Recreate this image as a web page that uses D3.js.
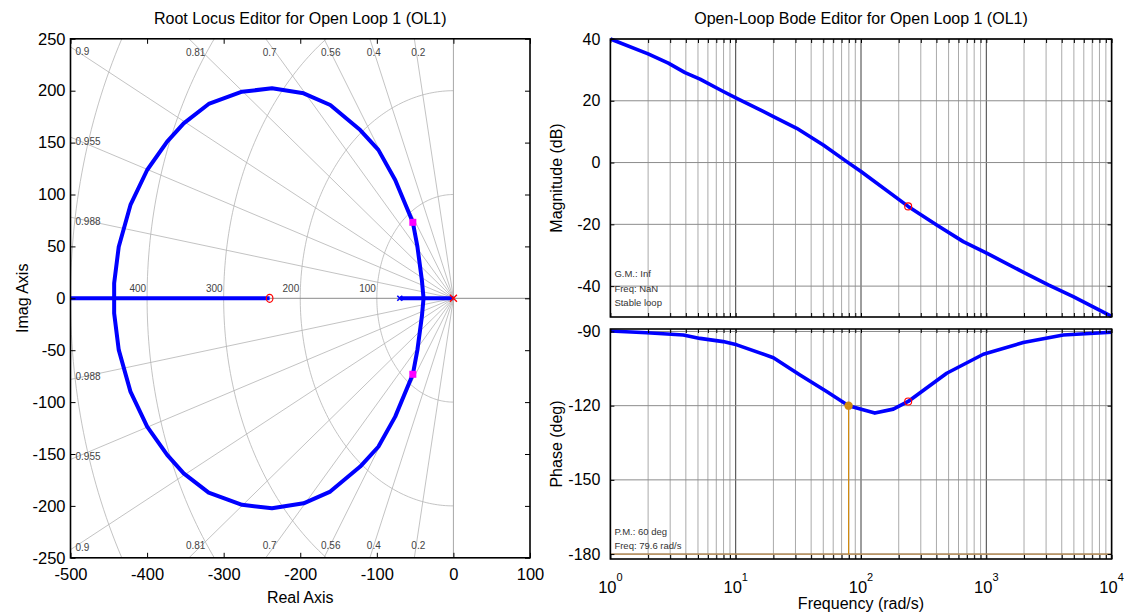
<!DOCTYPE html>
<html><head><meta charset="utf-8">
<script src="https://cdn.jsdelivr.net/npm/d3@7"></script>
<style>
body{margin:0;background:#fff;}
svg{font-family:"Liberation Sans",Arial,Helvetica,sans-serif;}
</style>
</head><body>
<svg id="chart" width="1133" height="615"></svg>
<script>
// ---------------- DATA ----------------
// Root locus axes
const rlXTicks = [-500, -400, -300, -200, -100, 0, 100];
const rlYTicks = [250, 200, 150, 100, 50, 0, -50, -100, -150, -200, -250];
// Upper half of the complex branch (mirrored for the lower half)
const locusRe = [-443, -443, -437, -421.7, -399.9, -373.8, -352.2, -319.6, -276, -236.9, -195.6, -160.8, -121.7, -98, -76, -53, -47, -41.2, -39];
const locusIm = [0, 14.5, 49.7, 89.9, 123.6, 150.9, 168.6, 187.2, 199, 202.3, 197.5, 186.2, 162.1, 143, 114, 73.2, 49.7, 17.6, 0];
// Real-axis branches [start, end]
const realBranchStart = [-500, -70];
const realBranchEnd = [-240, 0];
// Open-loop poles / zeros, closed-loop poles
const compPoles = [0];
const plantPoles = [-70];
const compZeros = [-240];
const clPoleRe = [-53, -53];
const clPoleIm = [73.2, -73.2];
// sgrid
const zetaValues = [0.988, 0.955, 0.9, 0.81, 0.7, 0.56, 0.4, 0.2];
const zetaLabels = ["0.988", "0.955", "0.9", "0.81", "0.7", "0.56", "0.4", "0.2"];
const wnValues = [100, 200, 300, 400, 500];
const wnLabels = ["100", "200", "300", "400"];

// Bode axes
const magTicks = [40, 20, 0, -20, -40];
const phaseTicks = [-90, -120, -150, -180];
const decadeTicks = [1, 10, 100, 1000, 10000];
const decadeExp = ["0", "1", "2", "3", "4"];
// Bode magnitude (rad/s, dB)
const magFreq = [1, 2.0, 2.9, 3.94, 5.19, 7.96, 10.2, 20, 30.7, 50, 76.9, 100, 238, 402, 655, 1007, 2040, 3125, 4945, 10000];
const magDb = [40, 35.2, 32.2, 29.1, 27, 23, 20.8, 14.9, 11.1, 5.7, 0.3, -2.9, -14.2, -20.2, -25.6, -29.3, -35.8, -39.6, -43.4, -49.8];
// Bode phase (rad/s, deg)
const phFreq = [1, 1.95, 3.82, 5.19, 7.95, 10.2, 20, 32.6, 53.2, 79.6, 129, 181, 238, 483, 947, 1972, 4110, 10000];
const phDeg = [-89.8, -90.5, -91.4, -92.8, -94.1, -95.4, -100.6, -107.6, -114.3, -120, -123, -121.4, -118.3, -106.9, -99.2, -94.5, -91.4, -90.3];
// markers
const clMarkFreq = 238, clMarkMag = -14.2, clMarkPh = -118.3;
const pmFreq = 79.6, pmPhase = -120;
const gmText = ["G.M.: Inf", "Freq: NaN", "Stable loop"];
const pmText = ["P.M.: 60 deg", "Freq: 79.6 rad/s"];

// ---------------- DRAW ----------------
const svg = d3.select("#chart");
const BLUE = "#0000ff", RED = "#ff0000", MAG = "#ff00ff", ORANGE = "#d08a10";
const fmt = d => String(d);

// ===== Root locus =====
const L = {l: 70.5, r: 530, t: 38.8, b: 557.8};
const x = d3.scaleLinear().domain([-500, 100]).range([L.l, L.r]);
const y = d3.scaleLinear().domain([-250, 250]).range([L.b, L.t]);

svg.append("defs").append("clipPath").attr("id", "rlclip")
  .append("rect").attr("x", L.l).attr("y", L.t).attr("width", L.r - L.l).attr("height", L.b - L.t);
const rl = svg.append("g").attr("clip-path", "url(#rlclip)");

// wn circles (left half plane)
wnValues.forEach(w => {
  const pts = d3.range(0, 181).map(i => {
    const a = Math.PI / 2 + i * Math.PI / 180;
    return [x(w * Math.cos(a)), y(w * Math.sin(a))];
  });
  rl.append("path").attr("d", d3.line()(pts)).attr("fill", "none")
    .attr("stroke", "#b4b4b4").attr("stroke-width", 0.8);
});
// zeta rays
zetaValues.forEach(z => {
  const th = Math.acos(z);
  [1, -1].forEach(s => {
    rl.append("line").attr("x1", x(0)).attr("y1", y(0))
      .attr("x2", x(-1000 * Math.cos(th))).attr("y2", y(s * 1000 * Math.sin(th)))
      .attr("stroke", "#b4b4b4").attr("stroke-width", 0.8);
  });
});
// axes lines
rl.append("line").attr("x1", x(-500)).attr("x2", x(100)).attr("y1", y(0)).attr("y2", y(0))
  .attr("stroke", "#8a8a8a").attr("stroke-width", 1);
rl.append("line").attr("x1", x(0)).attr("x2", x(0)).attr("y1", y(250)).attr("y2", y(-250))
  .attr("stroke", "#a8a8a8").attr("stroke-width", 1);

// zeta labels
zetaValues.forEach((z, i) => {
  const th = Math.acos(z);
  const tn = Math.tan(th);
  const reAtTop = -250 / tn;
  [1, -1].forEach(s => {
    let tx, ty;
    if (reAtTop < -500) {
      const imL = 500 * tn;
      tx = L.l + 5; ty = y(s * imL) + (s > 0 ? 8 : 1);
    } else {
      tx = x(reAtTop) - 3; ty = s > 0 ? L.t + 17 : L.b - 9;
    }
    svg.append("text").attr("x", tx).attr("y", ty).attr("text-anchor", "start")
      .attr("font-size", 10).attr("fill", "#444").text(zetaLabels[i]);
  });
});
// wn labels
wnLabels.forEach((t, i) => {
  svg.append("text").attr("x", x(-wnValues[i]) - 1).attr("y", y(0) - 6)
    .attr("text-anchor", "end").attr("font-size", 10).attr("fill", "#444").text(t);
});

// locus branches
const lineRL = d3.line().x(d => x(d[0])).y(d => y(d[1]));
const upper = locusRe.map((r, i) => [r, locusIm[i]]);
const lower = locusRe.map((r, i) => [r, -locusIm[i]]);
[upper, lower].forEach(p => rl.append("path").attr("d", lineRL(p)).attr("fill", "none")
  .attr("stroke", BLUE).attr("stroke-width", 4).attr("stroke-linejoin", "round"));
realBranchStart.forEach((s, i) => {
  rl.append("line").attr("x1", x(s)).attr("x2", x(realBranchEnd[i])).attr("y1", y(0)).attr("y2", y(0))
    .attr("stroke", BLUE).attr("stroke-width", 4);
});
// markers
function xMark(g, cx, cy, sz, col, w) {
  g.append("path").attr("d", `M${cx-sz},${cy-sz}L${cx+sz},${cy+sz}M${cx-sz},${cy+sz}L${cx+sz},${cy-sz}`)
    .attr("stroke", col).attr("stroke-width", w).attr("fill", "none");
}
plantPoles.forEach(p => xMark(rl, x(p), y(0), 2.5, BLUE, 1.6));
compPoles.forEach(p => xMark(rl, x(p), y(0), 3.5, RED, 1.4));
compZeros.forEach(zz => rl.append("ellipse").attr("cx", x(zz)).attr("cy", y(0)).attr("rx", 3.3).attr("ry", 4)
  .attr("fill", "none").attr("stroke", RED).attr("stroke-width", 1.2));
clPoleRe.forEach((r, i) => rl.append("rect").attr("x", x(r) - 3.5).attr("y", y(clPoleIm[i]) - 3.5)
  .attr("width", 7).attr("height", 7).attr("fill", MAG));

// axes ticks & labels
const fs = 16.5;
const gx = svg.append("g").attr("transform", `translate(0,${L.b})`)
  .call(d3.axisBottom(x).tickValues(rlXTicks).tickSize(-5).tickPadding(10).tickFormat(fmt));
gx.selectAll("text").attr("font-size", fs).attr("fill", "#000");
svg.append("g").attr("transform", `translate(0,${L.t})`)
  .call(d3.axisTop(x).tickValues(rlXTicks).tickSize(-5).tickFormat(""));
const gy = svg.append("g").attr("transform", `translate(${L.l},0)`)
  .call(d3.axisLeft(y).tickValues(rlYTicks).tickSize(-5).tickPadding(5).tickFormat(fmt));
gy.selectAll("text").attr("font-size", fs).attr("fill", "#000");
svg.append("g").attr("transform", `translate(${L.r},0)`)
  .call(d3.axisRight(y).tickValues(rlYTicks).tickSize(-5).tickFormat(""));
svg.selectAll(".domain").remove();
svg.selectAll(".tick line").attr("stroke", "#000");
svg.append("rect").attr("x", L.l).attr("y", L.t).attr("width", L.r - L.l).attr("height", L.b - L.t)
  .attr("fill", "none").attr("stroke", "#000").attr("stroke-width", 1.6);

svg.append("text").attr("x", (L.l + L.r) / 2).attr("y", 24).attr("text-anchor", "middle")
  .attr("font-size", 16).text("Root Locus Editor for Open Loop 1 (OL1)");
svg.append("text").attr("x", (L.l + L.r) / 2).attr("y", 603).attr("text-anchor", "middle")
  .attr("font-size", 16).text("Real Axis");
svg.append("text").attr("transform", `translate(28,${(L.t + L.b) / 2}) rotate(-90)`)
  .attr("text-anchor", "middle").attr("font-size", 16).text("Imag Axis");

// ===== Bode =====
const B = {l: 610.4, r: 1111.6};
const M = {t: 39, b: 317};
const P = {t: 329, b: 559};
const xb = d3.scaleLog().domain([1, 10000]).range([B.l, B.r]);
const ym = d3.scaleLinear().domain([-50, 40]).range([M.b, M.t]);
const yp = d3.scaleLinear().domain([-182, -89]).range([P.b, P.t]);

const minorVals = [];
[1, 10, 100, 1000].forEach(d => { for (let k = 1; k <= 9; k++) minorVals.push(k * d); });
minorVals.push(10000);

function bodePanel(ys, pan, yTicks, showX) {
  const g = svg.append("g");
  minorVals.forEach(v => {
    const major = decadeTicks.includes(v);
    g.append("line").attr("x1", xb(v)).attr("x2", xb(v)).attr("y1", pan.t).attr("y2", pan.b)
      .attr("stroke", major ? "#3c3c3c" : "#a0a0a0").attr("stroke-width", major ? 1 : 0.9);
  });
  yTicks.forEach(v => {
    g.append("line").attr("x1", B.l).attr("x2", B.r).attr("y1", ys(v)).attr("y2", ys(v))
      .attr("stroke", "#8c8c8c").attr("stroke-width", 1);
  });
  svg.append("g").attr("transform", `translate(0,${pan.b})`)
    .call(d3.axisBottom(xb).tickValues(minorVals).tickSize(-4).tickFormat(""));
  svg.append("g").attr("transform", `translate(0,${pan.t})`)
    .call(d3.axisTop(xb).tickValues(minorVals).tickSize(-4).tickFormat(""));
  const al = svg.append("g").attr("transform", `translate(${B.l},0)`)
    .call(d3.axisLeft(ys).tickValues(yTicks).tickSize(-4).tickPadding(10).tickFormat(fmt));
  al.selectAll("text").attr("font-size", 16).attr("fill", "#000");
  svg.append("g").attr("transform", `translate(${B.r},0)`)
    .call(d3.axisRight(ys).tickValues(yTicks).tickSize(-4).tickFormat(""));
  if (showX) {
    decadeTicks.forEach((v, i) => {
      const t = svg.append("text").attr("x", xb(v)).attr("y", pan.b + 34)
        .attr("text-anchor", "middle").attr("font-size", fs);
      t.append("tspan").text("10");
      t.append("tspan").attr("dy", -12).attr("font-size", 11).text(decadeExp[i]);
    });
  }
  return g;
}
const gm = bodePanel(ym, M, magTicks, false);
const gp = bodePanel(yp, P, phaseTicks, true);
svg.selectAll(".domain").remove();
svg.selectAll(".tick line").attr("stroke", "#000");

// -180 line & PM marker line
gp.append("line").attr("x1", B.l).attr("x2", B.r).attr("y1", yp(-180)).attr("y2", yp(-180))
  .attr("stroke", "#b8884a").attr("stroke-width", 1.2);
gp.append("line").attr("x1", xb(pmFreq)).attr("x2", xb(pmFreq)).attr("y1", yp(pmPhase)).attr("y2", yp(-180))
  .attr("stroke", ORANGE).attr("stroke-width", 1.2);

const magLine = d3.line().x((d, i) => xb(magFreq[i])).y(d => ym(d));
gm.append("path").attr("d", magLine(magDb)).attr("fill", "none").attr("stroke", BLUE)
  .attr("stroke-width", 3.6).attr("stroke-linejoin", "round");
const phLine = d3.line().x((d, i) => xb(phFreq[i])).y(d => yp(d));
gp.append("path").attr("d", phLine(phDeg)).attr("fill", "none").attr("stroke", BLUE)
  .attr("stroke-width", 3.6).attr("stroke-linejoin", "round");

gm.append("circle").attr("cx", xb(clMarkFreq)).attr("cy", ym(clMarkMag)).attr("r", 3.5)
  .attr("fill", "none").attr("stroke", RED).attr("stroke-width", 1.1);
gp.append("circle").attr("cx", xb(clMarkFreq)).attr("cy", yp(clMarkPh)).attr("r", 3.5)
  .attr("fill", "none").attr("stroke", RED).attr("stroke-width", 1.1);
gp.append("circle").attr("cx", xb(pmFreq)).attr("cy", yp(pmPhase)).attr("r", 4.2).attr("fill", ORANGE);

[M, P].forEach(pan => svg.append("rect").attr("x", B.l).attr("y", pan.t).attr("width", B.r - B.l)
  .attr("height", pan.b - pan.t).attr("fill", "none").attr("stroke", "#000").attr("stroke-width", 1.6));

// annotations
gmText.forEach((t, i) => svg.append("text").attr("x", B.l + 4).attr("y", 277 + i * 14.5)
  .attr("font-size", 9.5).attr("fill", "#333").text(t));
pmText.forEach((t, i) => svg.append("text").attr("x", B.l + 4).attr("y", 535 + i * 13.5)
  .attr("font-size", 9.5).attr("fill", "#333").text(t));

svg.append("text").attr("x", (B.l + B.r) / 2).attr("y", 24).attr("text-anchor", "middle")
  .attr("font-size", 16).text("Open-Loop Bode Editor for Open Loop 1 (OL1)");
svg.append("text").attr("x", (B.l + B.r) / 2).attr("y", 609).attr("text-anchor", "middle")
  .attr("font-size", 16).text("Frequency (rad/s)");
svg.append("text").attr("transform", `translate(562,${(M.t + M.b) / 2}) rotate(-90)`)
  .attr("text-anchor", "middle").attr("font-size", 16).text("Magnitude (dB)");
svg.append("text").attr("transform", `translate(562,${(P.t + P.b) / 2}) rotate(-90)`)
  .attr("text-anchor", "middle").attr("font-size", 16).text("Phase (deg)");
</script>
</body></html>
